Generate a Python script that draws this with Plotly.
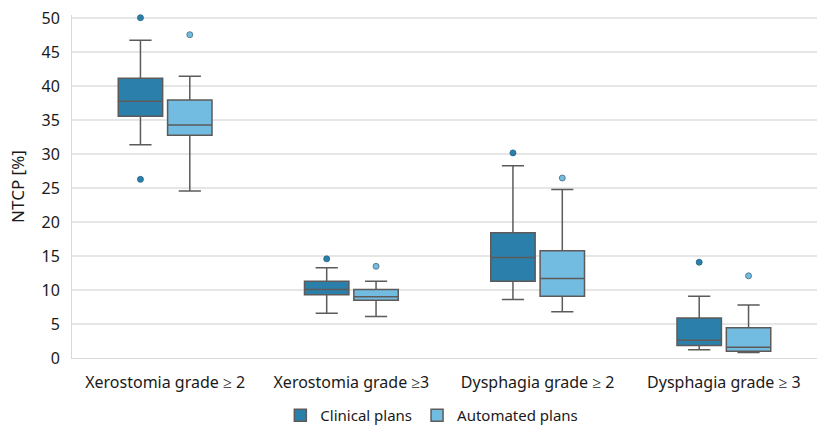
import plotly.graph_objects as go

categories = ["Xerostomia grade ≥ 2", "Xerostomia grade ≥3", "Dysphagia grade ≥ 2", "Dysphagia grade ≥ 3"]

# Clinical plans
clin_lower = [31.4, 6.6, 8.6, 1.2]
clin_q1 = [35.6, 9.3, 11.3, 1.85]
clin_median = [37.8, 10.1, 14.8, 2.6]
clin_q3 = [41.2, 11.3, 18.45, 5.9]
clin_upper = [46.8, 13.3, 28.3, 9.1]
clin_outlier_x = ["Xerostomia grade ≥ 2", "Xerostomia grade ≥ 2", "Xerostomia grade ≥3", "Dysphagia grade ≥ 2", "Dysphagia grade ≥ 3"]
clin_outlier_y = [50.1, 26.3, 14.6, 30.2, 14.1]

# Automated plans
auto_lower = [24.6, 6.1, 6.8, 0.8]
auto_q1 = [32.8, 8.5, 9.1, 1.0]
auto_median = [34.3, 9.0, 11.7, 1.6]
auto_q3 = [38.0, 10.1, 15.8, 4.45]
auto_upper = [41.5, 11.3, 24.8, 7.8]
auto_outlier_x = ["Xerostomia grade ≥ 2", "Xerostomia grade ≥3", "Dysphagia grade ≥ 2", "Dysphagia grade ≥ 3"]
auto_outlier_y = [47.6, 13.5, 26.5, 12.1]

y_ticks = [0, 5, 10, 15, 20, 25, 30, 35, 40, 45, 50]

CLIN = "#2b80ab"
AUTO = "#72bce1"
EDGE = "#5e5a5a"
FONT = "Noto Sans"

fig = go.Figure()
fig.add_trace(go.Box(
    name="Clinical plans", x=categories, q1=clin_q1, median=clin_median, q3=clin_q3,
    lowerfence=clin_lower, upperfence=clin_upper,
    fillcolor=CLIN, line=dict(color=EDGE, width=1.5), whiskerwidth=0.5,
    offsetgroup="c", boxpoints=False, hoverinfo="skip",
))
fig.add_trace(go.Box(
    name="Automated plans", x=categories, q1=auto_q1, median=auto_median, q3=auto_q3,
    lowerfence=auto_lower, upperfence=auto_upper,
    fillcolor=AUTO, line=dict(color=EDGE, width=1.5), whiskerwidth=0.5,
    offsetgroup="a", boxpoints=False, hoverinfo="skip",
))
fig.add_trace(go.Scatter(
    x=clin_outlier_x, y=clin_outlier_y, mode="markers", showlegend=False,
    offsetgroup="c", cliponaxis=False,
    marker=dict(color=CLIN, size=6, line=dict(color="#1f5f80", width=0.8)),
))
fig.add_trace(go.Scatter(
    x=auto_outlier_x, y=auto_outlier_y, mode="markers", showlegend=False,
    offsetgroup="a", cliponaxis=False,
    marker=dict(color=AUTO, size=6, line=dict(color="#4a6a7a", width=0.8)),
))

fig.update_layout(
    width=817, height=427,
    margin=dict(l=72, r=0, t=15, b=69, autoexpand=False),
    paper_bgcolor="white", plot_bgcolor="white",
    boxmode="group", boxgap=0.47, boxgroupgap=0.1,
    scattermode="group", scattergap=0.47,
    font=dict(family=FONT, size=16, color="#1a1a1a"),
    legend=dict(orientation="h", x=0.483, y=-0.168, xanchor="center", yanchor="middle",
                font=dict(size=15), itemwidth=30, tracegroupgap=0),
    showlegend=True,
)
fig.update_xaxes(
    type="category", categoryorder="array", categoryarray=categories,
    showline=True, linecolor="#d9d9d9", linewidth=1, showgrid=False, automargin=False,
    ticks="", ticklabelstandoff=10, tickfont=dict(size=16),
)
fig.update_yaxes(
    range=[0, 50.5], tickvals=y_ticks, showgrid=True, gridcolor="#e6e6e6", gridwidth=1.5,
    showline=True, linecolor="#d9d9d9", linewidth=1, zeroline=False, automargin=False,
    ticks="", ticklabelstandoff=8, tickfont=dict(size=16),
    title=dict(text="NTCP [%]", font=dict(size=17), standoff=12),
)

fig.write_html("out.html", config={"displayModeBar": False},
               post_script="document.body.style.margin='0';document.body.style.overflow='hidden';")
